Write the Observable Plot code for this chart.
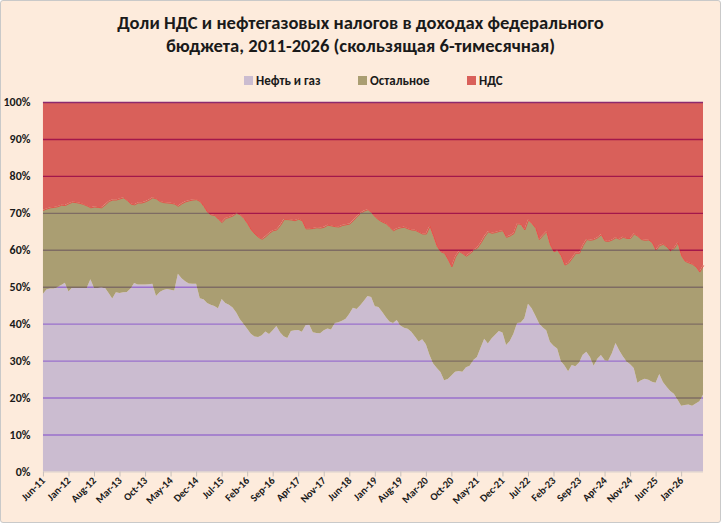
<!DOCTYPE html>
<html>
<head>
<meta charset="utf-8">
<script src="https://cdn.jsdelivr.net/npm/d3@7"></script>
<script src="https://cdn.jsdelivr.net/npm/@observablehq/plot@0.6"></script>
<style>
  body { margin: 0; background: #ffffff; }
  #chart { position: relative; width: 719px; height: 521px; border: 1px solid #c9c9c9; border-radius: 3px;
           background: #fdebdc; overflow: hidden; font-family: Carlito, Lato, "Open Sans", "Noto Sans", sans-serif; color: #1a1a1a; }
  #title { position: absolute; top: 10px; left: 0; width: 100%; text-align: center; font-weight: bold; font-size: 18.6px; line-height: 23px; }
  .lg { position: absolute; top: 72px; font-weight: bold; font-size: 13px; line-height: 16px; white-space: nowrap; }
  .lg span.sw { display: inline-block; width: 9px; height: 9px; margin-right: 3px; vertical-align: 0px; }
  #plot { position: absolute; top: 90px; left: -1px; }
</style>
</head>
<body>
<div id="chart">
  <div id="title">Доли НДС и нефтегазовых налогов в доходах федерального<br>бюджета, 2011-2026 (скользящая 6-тимесячная)</div>
  <div id="legend"></div>
  <div id="plot"></div>
</div>
<script>
// ---- data (shares of federal budget revenue, %, 6-month rolling) ----
const startYear = 2011, startMonth = 5; // June 2011 (0-based month)
const seriesNames = ["Нефть и газ", "Остальное", "НДС"];
const seriesColors = ["#cbbcd0", "#aa9e72", "#d9605a"];

// Нефть и газ — share (bottom layer)
const oilGas = [
 48.1,49.3,49.5,49.5,50.0,50.5,51.1,48.7,49.8,49.8,
 49.7,49.7,49.7,52.0,49.7,49.8,49.9,49.7,48.3,46.8,
 48.5,48.3,48.5,48.6,49.5,51.0,50.6,50.6,50.6,50.7,
 50.8,47.5,48.6,49.1,49.4,49.2,49.0,53.5,52.3,51.5,
 50.9,50.8,50.8,46.9,46.6,45.6,45.1,44.8,44.2,46.7,
 45.6,45.1,44.4,43.0,41.2,40.0,38.6,37.3,36.5,36.4,
 36.9,37.9,37.2,38.2,39.4,37.7,36.6,36.1,38.0,38.2,
 38.3,37.8,39.6,39.8,37.7,37.5,37.4,38.2,38.7,38.4,
 40.2,40.4,40.8,41.3,42.7,44.3,44.0,45.0,46.2,47.5,
 47.2,44.7,44.5,43.2,41.8,40.6,40.2,41.0,39.5,38.9,
 38.6,37.8,36.5,35.2,35.8,34.4,31.5,29.2,28.0,26.9,
 24.7,25.0,26.0,27.0,27.2,27.0,28.2,28.6,30.2,31.0,
 33.5,35.9,34.6,36.0,37.0,38.0,37.6,34.2,35.3,37.3,
 40.2,40.3,41.5,45.4,44.2,42.2,40.2,39.0,38.2,35.1,
 34.0,33.3,29.9,28.7,27.1,28.8,28.5,29.5,31.6,32.4,
 31.0,28.6,30.5,31.5,30.2,30.0,32.0,34.8,32.8,31.2,
 29.8,29.0,28.0,24.0,24.7,25.1,24.8,24.3,24.0,26.4,
 24.2,22.9,21.8,21.0,19.5,17.8,18.0,18.1,17.8,18.4,
 19.0,20.8];

// Нефть и газ + Остальное — cumulative top of the middle layer (НДС fills the rest to 100%)
const oilGasPlusOther = [
 70.8,71.2,71.5,71.6,71.8,72.2,72.1,72.6,73.0,72.9,
 72.7,72.4,72.0,71.5,71.7,71.6,71.5,72.3,73.2,73.6,
 73.6,73.9,74.2,73.5,72.5,72.3,72.8,72.8,73.1,73.6,
 74.2,73.9,73.2,72.9,72.8,72.7,72.5,71.9,72.6,73.1,
 73.4,73.6,73.7,73.2,71.9,70.3,69.6,69.4,68.4,67.5,
 68.6,68.9,69.3,70.0,69.6,68.6,67.2,65.5,64.4,63.5,
 63.0,63.7,64.6,65.3,65.5,66.7,68.3,68.3,68.2,68.0,
 68.4,68.0,65.8,65.8,65.9,66.1,66.0,66.2,66.8,66.6,
 66.4,66.3,66.7,66.9,67.1,68.0,69.1,70.0,70.6,71.0,
 70.2,69.0,68.2,67.6,67.2,66.2,65.3,65.8,66.1,66.2,
 65.8,65.5,65.4,64.9,64.4,64.4,66.5,63.8,61.0,59.6,
 59.2,57.5,55.5,58.2,59.7,59.1,58.4,59.1,60.0,60.6,
 62.0,63.7,65.0,64.6,64.8,65.1,65.3,63.5,63.9,64.5,
 67.2,67.0,65.5,68.2,67.2,66.0,62.9,64.0,65.0,61.5,
 59.6,60.0,58.5,56.0,56.5,57.8,59.2,59.2,61.3,62.9,
 62.7,62.9,63.4,64.2,62.5,62.4,62.8,63.4,63.0,63.5,
 63.2,63.2,64.4,63.8,62.9,62.7,62.8,62.0,60.0,61.3,
 61.6,60.9,59.8,60.5,62.0,58.5,57.0,56.6,56.2,55.5,
 54.1,55.8];

const xTickLabels = ["Jun-11","Jan-12","Aug-12","Mar-13","Oct-13","May-14","Dec-14","Jul-15","Feb-16","Sep-16",
  "Apr-17","Nov-17","Jun-18","Jan-19","Aug-19","Mar-20","Oct-20","May-21","Dec-21","Jul-22","Feb-23","Sep-23",
  "Apr-24","Nov-24","Jun-25","Jan-26"];
const yTicks = [0,10,20,30,40,50,60,70,80,90,100];
const gridLevels = [10,20,30,40,50,60,70,80,90];

// ---- build table ----
const fmt = d3.utcFormat("%b-%y");
const rows = oilGas.map((v, i) => ({
  month: fmt(new Date(Date.UTC(startYear, startMonth + i, 1))),
  oil: v,
  top: oilGasPlusOther[i],
  full: 100
}));
const monthDomain = rows.map(d => d.month);

// ---- legend ----
const legend = document.getElementById("legend");
const legendLeft = [243, 357, 466];
seriesNames.forEach((name, i) => {
  const el = document.createElement("div");
  el.className = "lg";
  el.style.left = legendLeft[i] + "px";
  el.innerHTML = `<span class="sw" style="background:${seriesColors[i]}"></span>${name}`;
  legend.appendChild(el);
});

// ---- plot ----
const svg = Plot.plot({
  width: 721,
  height: 432,
  marginLeft: 43,
  marginRight: 17,
  marginTop: 11,
  marginBottom: 51,
  style: { background: "transparent", fontFamily: "Carlito, Lato, 'Open Sans', 'Noto Sans', sans-serif", color: "#1a1a1a", overflow: "visible" },
  x: { type: "point", domain: monthDomain, padding: 0 },
  y: { domain: [0, 100] },
  marks: [
    Plot.areaY(rows, { x: "month", y1: 0, y2: "oil", fill: seriesColors[0], curve: "linear" }),
    Plot.areaY(rows, { x: "month", y1: "oil", y2: "top", fill: seriesColors[1], curve: "linear" }),
    Plot.areaY(rows, { x: "month", y1: "top", y2: "full", fill: seriesColors[2], curve: "linear" }),
    Plot.lineY(rows, { x: "month", y: "top", stroke: "#e5524a", strokeWidth: 1 }),
    Plot.ruleY(gridLevels, { stroke: "#9a70cc", strokeWidth: 1.4 }),
    Plot.ruleY(gridLevels, { stroke: "#7e6c63", strokeWidth: 1.4 }),
    Plot.ruleY(gridLevels, { stroke: "#a3174b", strokeWidth: 1.4 }),
    Plot.ruleY([100], { stroke: "#8c2a6e", strokeWidth: 1.4 }),
    Plot.ruleY([0], { stroke: "#d9d0cc", strokeWidth: 1 }),
    Plot.axisX({ ticks: xTickLabels, tickSize: 5, tickRotate: -45, tickPadding: 2, stroke: "#c8c0bc",
                 fontSize: 10.5, fontWeight: "bold", label: null }),
    Plot.axisY({ ticks: yTicks, tickSize: 0, tickPadding: 13, tickFormat: d => d + "%",
                 fontSize: 12, fontWeight: "bold", label: null })
  ]
});
document.getElementById("plot").appendChild(svg);

// clip each set of gridlines to its area so the lines take the tint of the layer they cross
const ns = "http://www.w3.org/2000/svg";
const defs = document.createElementNS(ns, "defs");
svg.insertBefore(defs, svg.firstChild);
const areaPaths = svg.querySelectorAll('g[aria-label="area"] path');
const ruleGroups = svg.querySelectorAll('g[aria-label="rule"]');
for (let i = 0; i < 3; i++) {
  const cp = document.createElementNS(ns, "clipPath");
  cp.setAttribute("id", "layerclip" + i);
  const p = document.createElementNS(ns, "path");
  p.setAttribute("d", areaPaths[i].getAttribute("d"));
  cp.appendChild(p);
  defs.appendChild(cp);
  ruleGroups[i].setAttribute("clip-path", `url(#layerclip${i})`);
}
svg.querySelectorAll('g[aria-label="x-axis tick label"] text, g[aria-label="y-axis tick label"] text')
  .forEach(t => t.setAttribute("font-weight", "bold"));
</script>
</body>
</html>
